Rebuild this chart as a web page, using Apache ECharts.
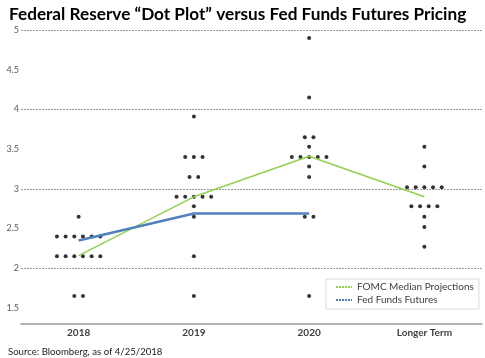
<!DOCTYPE html>
<html><head><meta charset="utf-8">
<script src="https://cdn.jsdelivr.net/npm/echarts@6/dist/echarts.min.js"></script>
<style>html,body{margin:0;padding:0;background:#fff}#c{width:485px;height:358px}</style>
</head><body><div id="c"></div>
<script>
const categories = ['2018', '2019', '2020', 'Longer Term'];
const dots2018 = [2.65, 2.40, 2.40, 2.40, 2.40, 2.40, 2.40, 2.15, 2.15, 2.15, 2.15, 2.15, 2.15, 1.65, 1.65];
const dots2019 = [3.91, 3.40, 3.40, 3.40, 3.15, 3.15, 2.90, 2.90, 2.90, 2.90, 2.90, 2.78, 2.65, 2.15, 1.65];
const dots2020 = [4.90, 4.15, 3.65, 3.65, 3.53, 3.40, 3.40, 3.40, 3.40, 3.40, 3.28, 3.15, 2.65, 2.65, 1.65];
const dotsLonger = [3.53, 3.28, 3.02, 3.02, 3.02, 3.02, 3.02, 2.78, 2.78, 2.78, 2.78, 2.65, 2.52, 2.27];
const fomcMedian = [2.16, 2.90, 3.41, 2.90];
const fedFundsFutures = [2.35, 2.69, 2.69, null];

const dotSets = [dots2018, dots2019, dots2020, dotsLonger];
const DOT_STEP = 0.0752; // horizontal spacing between dots (category units)

function beeswarm(values, catIndex) {
  const groups = {};
  values.forEach(v => { (groups[v] = groups[v] || []).push(v); });
  const out = [];
  Object.keys(groups).forEach(k => {
    const g = groups[k];
    const n = g.length;
    g.forEach((v, i) => out.push([catIndex + 0.5 + (i - (n - 1) / 2) * DOT_STEP, v]));
  });
  return out;
}
const dotData = [];
dotSets.forEach((s, i) => dotData.push(...beeswarm(s, i)));

const toLine = arr => arr.map((v, i) => v == null ? null : [i + 0.5, v]).filter(d => d);

const FONT = 'Lato, "Open Sans", sans-serif';
const chart = echarts.init(document.getElementById('c'), null, { renderer: 'canvas' });
chart.setOption({
  animation: false,
  backgroundColor: '#fff',
  title: [
    { text: 'Federal Reserve \u201cDot Plot\u201d versus Fed Funds Futures Pricing', left: 4, top: 1,
      textStyle: { fontFamily: FONT, fontWeight: 'bold', fontSize: 17.2, color: '#000' } },
    { text: 'Source: Bloomberg, as of 4/25/2018', left: 3, top: 342,
      textStyle: { fontFamily: FONT, fontWeight: 'normal', fontSize: 9.6, color: '#222' } }
  ],
  grid: { left: 21, right: 3, top: 30, bottom: 50, containLabel: false },
  legend: {
    orient: 'vertical', left: 326, top: 279,
    padding: [2, 5, 3, 9], itemGap: 1, itemWidth: 16, itemHeight: 8,
    borderColor: '#d9d9d9', borderWidth: 1, backgroundColor: '#fff',
    textStyle: { fontFamily: FONT, fontSize: 10, color: '#404040', lineHeight: 12 },
    itemStyle: { opacity: 0 },
    lineStyle: { type: [2, 1] },
    data: ['FOMC Median Projections', 'Fed Funds Futures']
  },
  xAxis: [
    { type: 'value', min: 0, max: 4, show: false },
    { type: 'category', data: categories, position: 'bottom', offset: 16, boundaryGap: true,
      axisLine: { show: true, lineStyle: { color: '#999', width: 1.5 } },
      axisTick: { show: false },
      axisLabel: { fontFamily: FONT, fontSize: 10, fontWeight: 'bold', color: '#404040', margin: 4 },
      splitLine: { show: false } }
  ],
  yAxis: {
    type: 'value', min: 1.5, max: 5, interval: 0.5,
    axisLine: { show: false }, axisTick: { show: false },
    axisLabel: { fontFamily: FONT, fontSize: 9, color: '#595959', margin: 2 },
    splitLine: { show: true, lineStyle: { color: ['rgba(0,0,0,0)', '#9a9a9a'], type: [2, 1], width: 1 } }
  },
  series: [
    { name: 'dots', type: 'scatter', xAxisIndex: 0, data: dotData, symbol: 'circle', symbolSize: 4,
      itemStyle: { color: '#000' }, z: 2, silent: true },
    { name: 'FOMC Median Projections', type: 'line', xAxisIndex: 0, data: toLine(fomcMedian),
      symbol: 'none', lineStyle: { color: '#92d050', width: 1.5 }, itemStyle: { color: '#92d050' }, z: 3 },
    { name: 'Fed Funds Futures', type: 'line', xAxisIndex: 0, data: toLine(fedFundsFutures),
      symbol: 'none', lineStyle: { color: '#4f81bd', width: 2.5 }, itemStyle: { color: '#4f81bd' }, z: 4 }
  ]
});
</script></body></html>
